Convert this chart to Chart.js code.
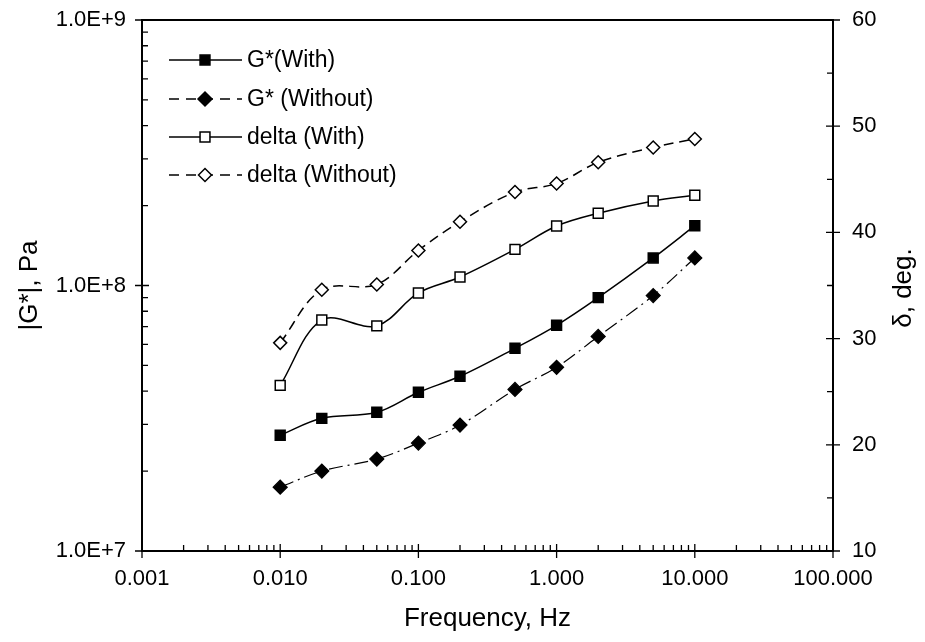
<!DOCTYPE html>
<html>
<head>
<meta charset="utf-8">
<script src="https://cdn.jsdelivr.net/npm/chart.js@4.4.0/dist/chart.umd.min.js"></script>
<style>
  html, body { margin: 0; padding: 0; background: #fff; }
  #wrap { width: 925px; height: 642px; position: relative; }
</style>
</head>
<body>
<div id="wrap"><canvas id="myChart"></canvas></div>
<script>
// frequency sweep, Hz
var freq = [0.01, 0.02, 0.05, 0.1, 0.2, 0.5, 1, 2, 5, 10];
// |G*|, Pa
var gWith    = [2.73e7, 3.16e7, 3.33e7, 3.96e7, 4.55e7, 5.8e7, 7.08e7, 9.0e7, 1.27e8, 1.68e8];
var gWithout = [1.74e7, 2.0e7, 2.22e7, 2.55e7, 2.98e7, 4.06e7, 4.92e7, 6.43e7, 9.16e7, 1.27e8];
// phase angle, deg
var deltaWith    = [25.6, 31.75, 31.2, 34.3, 35.8, 38.4, 40.6, 41.8, 42.95, 43.5];
var deltaWithout = [29.6, 34.6, 35.1, 38.3, 41.0, 43.8, 44.6, 46.6, 48.0, 48.8];

var seriesNames = ['G*(With)', 'G* (Without)', 'delta (With)', 'delta (Without)'];
var xTicks = [0.001, 0.01, 0.1, 1, 10, 100];
var yTicks = [1e7, 1e8, 1e9];

function pts(ys) {
  return freq.map(function (f, i) { return {x: f, y: ys[i]}; });
}

var FONT = 'Liberation Sans, Arial, sans-serif';

// drop the label overflow padding so the plot box sits where layout says
function noPad(s) {
  s.paddingTop = 0; s.paddingBottom = 0; s.paddingLeft = 0; s.paddingRight = 0;
}

// minor ticks pointing into the plot + frame
var framePlugin = {
  id: 'frame',
  afterDraw: function (chart) {
    var c = chart.ctx, a = chart.chartArea, s = chart.scales;
    c.save();
    c.strokeStyle = '#000';
    c.lineWidth = 2;
    c.strokeRect(a.left, a.top, a.right - a.left, a.bottom - a.top);
    c.lineWidth = 1.3;
    c.beginPath();
    // x axis
    xTicks.forEach(function (d, i) {
      var px = s.x.getPixelForValue(d);
      c.moveTo(px, a.bottom - 7); c.lineTo(px, a.bottom + 7);
      if (i < xTicks.length - 1) {
        for (var k = 2; k < 10; k++) {
          var mx = s.x.getPixelForValue(d * k);
          c.moveTo(mx, a.bottom); c.lineTo(mx, a.bottom - 6);
        }
      }
    });
    // left log axis
    yTicks.forEach(function (d, i) {
      var py = s.y.getPixelForValue(d);
      c.moveTo(a.left - 7, py); c.lineTo(a.left + 7, py);
      if (i < yTicks.length - 1) {
        for (var k = 2; k < 10; k++) {
          var my = s.y.getPixelForValue(d * k);
          c.moveTo(a.left, my); c.lineTo(a.left + 6, my);
        }
      }
    });
    // right linear axis
    for (var v = 10; v <= 60; v += 5) {
      var ry = s.y1.getPixelForValue(v);
      if (v % 10 === 0) { c.moveTo(a.right - 7, ry); c.lineTo(a.right + 7, ry); }
      else { c.moveTo(a.right, ry); c.lineTo(a.right - 6, ry); }
    }
    c.stroke();

    // right axis title, reading bottom to top
    c.fillStyle = '#000';
    c.font = '26px ' + FONT;
    c.textAlign = 'center';
    c.textBaseline = 'middle';
    c.translate(904, 288);
    c.rotate(-Math.PI / 2);
    c.fillText('δ, deg.', 0, 0);
    c.restore();

    // legend
    c.save();
    var rowY = [60, 99, 137, 175];
    chart.data.datasets.forEach(function (ds, i) {
      var y = rowY[i];
      c.strokeStyle = '#000';
      c.lineWidth = 1.5;
      c.setLineDash(ds.legendDash || []);
      c.beginPath();
      c.moveTo(169, y); c.lineTo(242, y);
      c.stroke();
      c.setLineDash([]);
      c.fillStyle = ds.pointBackgroundColor;
      c.strokeStyle = '#000';
      c.lineWidth = 1.5;
      Chart.helpers.drawPoint(c, {pointStyle: ds.pointStyle, radius: ds.pointRadius, borderWidth: 1.5, rotation: 0}, 205, y);
      c.fillStyle = '#000';
      c.font = '23px ' + FONT;
      c.textAlign = 'left';
      c.textBaseline = 'middle';
      c.fillText(ds.label, 247, y + 1);
    });
    c.restore();
  }
};

var ctx = document.getElementById('myChart').getContext('2d');
var myChart = new Chart(ctx, {
  type: 'line',
  data: {
    datasets: [{
      label: seriesNames[0],
      data: pts(gWith),
      yAxisID: 'y',
      borderColor: '#000',
      borderWidth: 1.5,
      pointStyle: 'rect',
      pointRadius: 7,
      pointBackgroundColor: '#000',
      pointBorderColor: '#000',
      tension: 0.35
    }, {
      label: seriesNames[1],
      data: pts(gWithout),
      yAxisID: 'y',
      borderColor: '#000',
      borderWidth: 1.2,
      borderDash: [14, 5, 2, 5],
      legendDash: [10, 7],
      pointStyle: 'rectRot',
      pointRadius: 7,
      pointBackgroundColor: '#000',
      pointBorderColor: '#000',
      tension: 0.35
    }, {
      label: seriesNames[2],
      data: pts(deltaWith),
      yAxisID: 'y1',
      borderColor: '#000',
      borderWidth: 1.5,
      pointStyle: 'rect',
      pointRadius: 7,
      pointBackgroundColor: '#fff',
      pointBorderColor: '#000',
      pointBorderWidth: 1.5,
      tension: 0.35
    }, {
      label: seriesNames[3],
      data: pts(deltaWithout),
      yAxisID: 'y1',
      borderColor: '#000',
      borderWidth: 1.5,
      borderDash: [10, 6],
      legendDash: [10, 7],
      pointStyle: 'rectRot',
      pointRadius: 6.5,
      pointBackgroundColor: '#fff',
      pointBorderColor: '#000',
      pointBorderWidth: 1.5,
      tension: 0.35
    }]
  },
  options: {
    responsive: true,
    maintainAspectRatio: false,
    animation: false,
    layout: { padding: { top: 20, left: 0, right: 0, bottom: 0 } },
    plugins: { legend: { display: false }, tooltip: { enabled: false } },
    elements: { point: { hoverRadius: 7 }, line: { clip: false } },
    scales: {
      x: {
        type: 'logarithmic',
        min: 0.001,
        max: 100,
        grid: { display: false, drawTicks: false },
        border: { display: false },
        afterBuildTicks: function (s) { s.ticks = xTicks.map(function (v) { return {value: v}; }); },
        afterFit: function (s) { s.height = 91; noPad(s); },
        ticks: {
          autoSkip: false,
          maxRotation: 0,
          padding: 15,
          color: '#000',
          font: { family: FONT, size: 22 },
          callback: function (v) { return Number(v).toFixed(3); }
        },
        title: {
          display: true,
          text: 'Frequency, Hz',
          color: '#000',
          font: { family: FONT, size: 26 },
          padding: { top: 0, bottom: 8 }
        }
      },
      y: {
        type: 'logarithmic',
        position: 'left',
        min: 1e7,
        max: 1e9,
        grid: { display: false, drawTicks: false },
        border: { display: false },
        afterBuildTicks: function (s) { s.ticks = yTicks.map(function (v) { return {value: v}; }); },
        afterFit: function (s) { s.width = 142; noPad(s); },
        ticks: {
          autoSkip: false,
          padding: 16,
          color: '#000',
          font: { family: FONT, size: 22 },
          callback: function (v) { return Number(v).toExponential(1).toUpperCase(); }
        },
        title: {
          display: true,
          text: '|G*|, Pa',
          color: '#000',
          font: { family: FONT, size: 26 },
          padding: { top: 14, bottom: 0 }
        }
      },
      y1: {
        type: 'linear',
        position: 'right',
        min: 10,
        max: 60,
        grid: { display: false, drawTicks: false },
        border: { display: false },
        afterFit: function (s) { s.width = 92; noPad(s); },
        ticks: {
          stepSize: 10,
          padding: 19,
          color: '#000',
          font: { family: FONT, size: 22 }
        }
      }
    }
  },
  plugins: [framePlugin]
});
</script>
</body>
</html>
